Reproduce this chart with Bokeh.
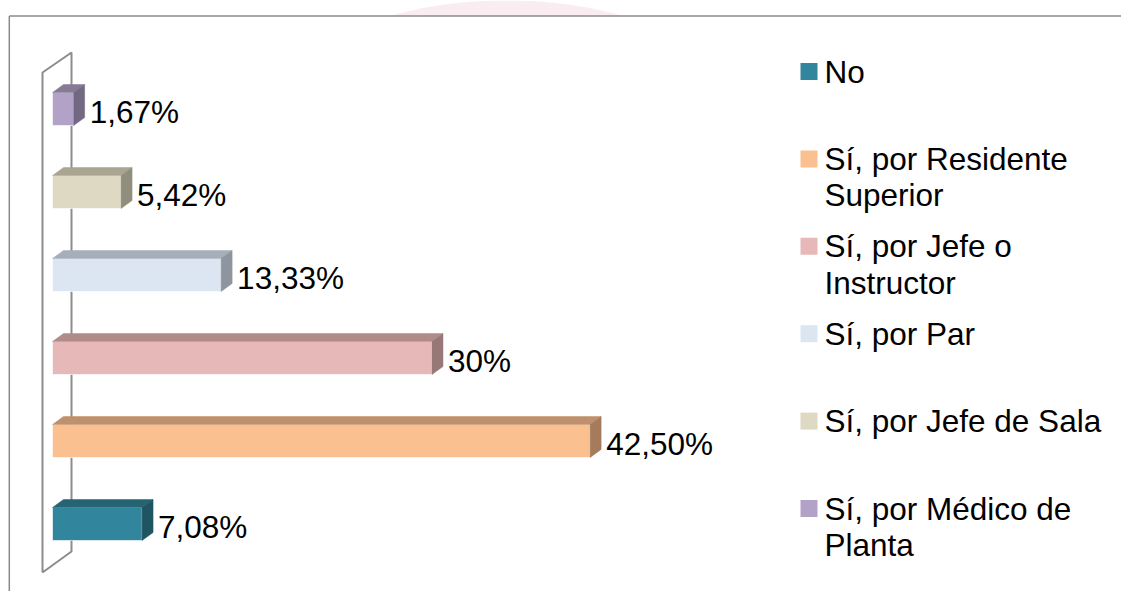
import math
from bokeh.plotting import figure
from bokeh.models import Range1d, ColumnDataSource
from bokeh.embed import file_html
from bokeh.resources import INLINE
from bokeh.core.properties import value

# ---- data ----
categories = ["No", "Sí, por Residente Superior", "Sí, por Jefe o Instructor",
              "Sí, por Par", "Sí, por Jefe de Sala", "Sí, por Médico de Planta"]
legend_labels = ["No", "Sí, por Residente\nSuperior", "Sí, por Jefe o\nInstructor",
                 "Sí, por Par", "Sí, por Jefe de Sala", "Sí, por Médico de\nPlanta"]
values = [7.08, 42.50, 30.0, 13.33, 5.42, 1.67]
value_labels = ["7,08%", "42,50%", "30%", "13,33%", "5,42%", "1,67%"]

front_colors = ["#31859C", "#FAC08F", "#E6B9B8", "#DCE6F2", "#DDD9C3", "#B3A2C7"]
top_colors = ["#256473", "#BF906B", "#B08B8A", "#A6AEB9", "#A9A592", "#877A97"]
side_colors = ["#1F5562", "#A57B5C", "#977877", "#8F959E", "#918E7D", "#736882"]

# ---- geometry (pixel constants -> data units); px measured in screenshot coords ----
W, H = 1121, 591
ORG = 0.0        # screenshot px where the figure starts
PXX = 12.65      # px per percent
PXY = 83.0       # px per category step
X0 = 52.0        # screenshot px where value 0 sits
Y0 = 523.5       # screenshot px where category 0 sits

def ddx(px):
    return px / PXX

def ddy(px):
    return px / PXY

def xd(px):
    return (px - X0) / PXX

def yd(px):
    return (Y0 - px) / PXY

FONT = value("Liberation Sans")
FS = "31.5px"

p = figure(width=W, height=H, output_backend="svg", toolbar_location=None,
           x_range=Range1d(xd(ORG), xd(ORG + W)), y_range=Range1d(yd(ORG + H), yd(ORG)),
           x_axis_type=None, y_axis_type=None, min_border=0,
           outline_line_color=None, background_fill_color="white",
           border_fill_color="white")
p.grid.visible = False

# faint watermark arc above the frame
cx, cy, a, b = 506.0, 60.0, 172.0, 60.0
wm_x, wm_y = [], []
for k in range(61):
    t = math.pi * k / 60.0
    px = cx - a * math.cos(t)
    py = cy - b * math.sin(t)
    py = min(py, 15.0)
    wm_x.append(xd(px))
    wm_y.append(yd(py))
p.patch(wm_x, wm_y, fill_color="#F9EDF2", line_color=None)

# outer border (top and left)
p.segment(x0=[xd(8.8), xd(8.8)], y0=[yd(15.5), yd(15.5)],
          x1=[xd(1140), xd(8.8)], y1=[yd(15.5), yd(620)],
          line_color="#8A8A8A", line_width=1.5)

# 3D wall (axis)
wall_x = [xd(42), xd(42), xd(71), xd(71), xd(42)]
wall_y = [yd(572), yd(72), yd(52), yd(551), yd(572)]
p.line(wall_x, wall_y, line_color="#8C8C8C", line_width=2)

# bars
n = len(values)
ys = list(range(n))
hh = ddy(16.5)
DX, DY = ddx(11), ddy(8)

front = ColumnDataSource(dict(left=[0] * n, right=values,
                              bottom=[y - hh for y in ys], top=[y + hh for y in ys],
                              color=front_colors))
p.quad(left="left", right="right", bottom="bottom", top="top", source=front,
       fill_color="color", line_color="white", line_alpha=0.6, line_width=1)

top_xs, top_ys, side_xs, side_ys = [], [], [], []
for v, y in zip(values, ys):
    t, b2 = y + hh, y - hh
    top_xs.append([0, v, v + DX, DX])
    top_ys.append([t, t, t + DY, t + DY])
    side_xs.append([v, v + DX, v + DX, v])
    side_ys.append([b2, b2 + DY, t + DY, t])
p.patches(top_xs, top_ys, fill_color=top_colors, line_color=top_colors, line_width=0.5)
p.patches(side_xs, side_ys, fill_color=side_colors, line_color=side_colors, line_width=0.5)

# value labels
p.text(x=[v + DX + ddx(5) for v in values], y=[y - ddy(3) for y in ys], text=value_labels,
       text_font=FONT, text_font_size=FS, text_color="black",
       text_align="left", text_baseline="middle")

# legend (manual)
leg_y0, leg_step, line_step = 71.0, 87.4, 36.5
sq_x, sq_y = [], []
lx, ly, lt = [], [], []
for k, lab in enumerate(legend_labels):
    cyy = leg_y0 + k * leg_step
    sq_x.append(xd(808.5))
    sq_y.append(yd(cyy))
    for j, line in enumerate(lab.split("\n")):
        lx.append(xd(824))
        ly.append(yd(cyy + j * line_step))
        lt.append(line)
p.scatter(sq_x, sq_y, marker="square", size=17, fill_color=front_colors, line_color=None)
p.text(x=lx, y=ly, text=lt, text_font=FONT, text_font_size=FS, text_color="black",
       text_align="left", text_baseline="middle")

open("out.html", "w").write(file_html(p, INLINE))
